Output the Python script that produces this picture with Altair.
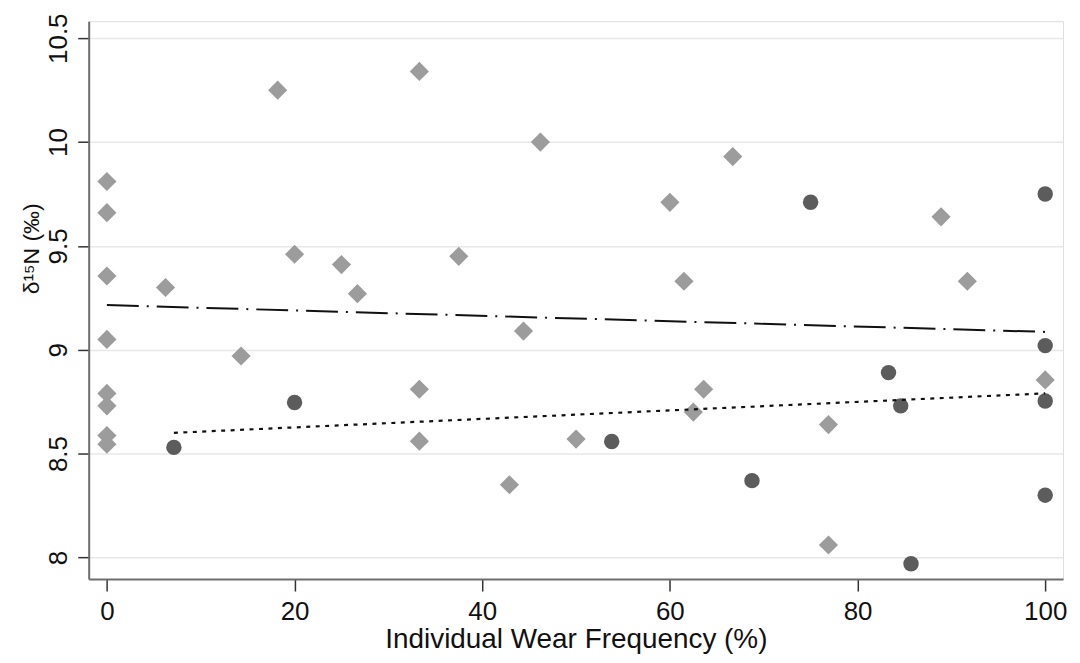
import altair as alt
import pandas as pd

# Group A (grey diamonds)
diam_x = [0, 0, 0, 0, 0, 0, 0, 0, 6.25, 14.3, 18.2, 20, 25, 26.7, 33.3, 33.3, 33.3,
          37.5, 42.9, 44.4, 46.2, 50, 60, 61.5, 62.5, 63.6, 66.7, 76.9, 76.9, 88.9, 91.7, 100]
diam_y = [9.81, 9.66, 9.355, 9.05, 8.79, 8.73, 8.587, 8.545, 9.30, 8.97, 10.25, 9.46, 9.41, 9.27,
          10.34, 8.81, 8.56, 9.45, 8.35, 9.09, 10.0, 8.57, 9.71, 9.33, 8.70, 8.81, 9.93, 8.64,
          8.06, 9.64, 9.33, 8.855]

# Group B (dark circles)
circ_x = [7.14, 20, 53.8, 68.75, 75, 83.3, 84.6, 85.7, 100, 100, 100, 100]
circ_y = [8.53, 8.746, 8.558, 8.37, 9.71, 8.89, 8.73, 7.97, 9.75, 9.02, 8.753, 8.30]

# Linear fits
fitA_x = [0, 100]
fitA_y = [9.215, 9.086]
fitB_x = [7.14, 100]
fitB_y = [8.60, 8.79]

x_ticks = [0, 20, 40, 60, 80, 100]
y_ticks = [8, 8.5, 9, 9.5, 10, 10.5]

dA = pd.DataFrame({"x": diam_x, "y": diam_y})
dB = pd.DataFrame({"x": circ_x, "y": circ_y})
fA = pd.DataFrame({"x": fitA_x, "y": fitA_y})
fB = pd.DataFrame({"x": fitB_x, "y": fitB_y})

FONT = "Liberation Sans"

xscale = alt.Scale(domain=[-1.94, 101.9], nice=False, zero=False)
yscale = alt.Scale(domain=[7.896, 10.582], nice=False, zero=False)

xenc = alt.X("x:Q", scale=xscale, title="Individual Wear Frequency (%)",
             axis=alt.Axis(values=x_ticks, grid=False, tickSize=12, tickWidth=1.5,
                           tickColor="#333333", domainColor="#6e6e6e", domainWidth=2,
                           labelFontSize=26, labelPadding=8, labelColor="#111111",
                           labelFont=FONT, titleFont=FONT, titleFontSize=28,
                           titleFontWeight="normal", titleColor="#111111", titlePadding=1,
                           format="d"))
yenc = alt.Y("y:Q", scale=yscale, title="δ¹⁵N (‰)",
             axis=alt.Axis(values=y_ticks, grid=True, gridColor="#e8e8e8", gridWidth=1.5,
                           tickSize=11, tickWidth=1.5, tickColor="#333333",
                           domainColor="#6e6e6e", domainWidth=2,
                           labelFontSize=26, labelPadding=6, labelColor="#111111",
                           labelAngle=270, labelAlign="center", labelBaseline="bottom",
                           labelFont=FONT, titleFont=FONT, titleFontSize=23,
                           titleFontWeight="normal", titleColor="#111111",
                           titleX=-57, titleY=228, titleAngle=270,
                           titleAlign="center", titleBaseline="middle",
                           format="~g"))

pts_a = alt.Chart(dA).mark_point(shape="diamond", filled=True, size=370,
                                 color="#9c9c9c", opacity=1).encode(x=xenc, y=yenc)
pts_b = alt.Chart(dB).mark_point(shape="circle", filled=True, size=240,
                                 color="#5c5c5c", opacity=1).encode(x="x:Q", y="y:Q")
line_a = alt.Chart(fA).mark_line(color="#111111", strokeWidth=2,
                                 strokeDash=[32, 8, 2, 8]).encode(x="x:Q", y="y:Q")
line_b = alt.Chart(fB).mark_line(color="#111111", strokeWidth=2.2,
                                 strokeDash=[4, 5.5]).encode(x="x:Q", y="y:Q")

chart = alt.layer(pts_a, pts_b, line_a, line_b).properties(
    width=978, height=560,
    padding={"left": 13, "top": 3, "right": 5, "bottom": 5},
).configure_view(stroke=None).configure(background="white")

chart.save("out.html", embed_options={"renderer": "svg", "actions": False})
